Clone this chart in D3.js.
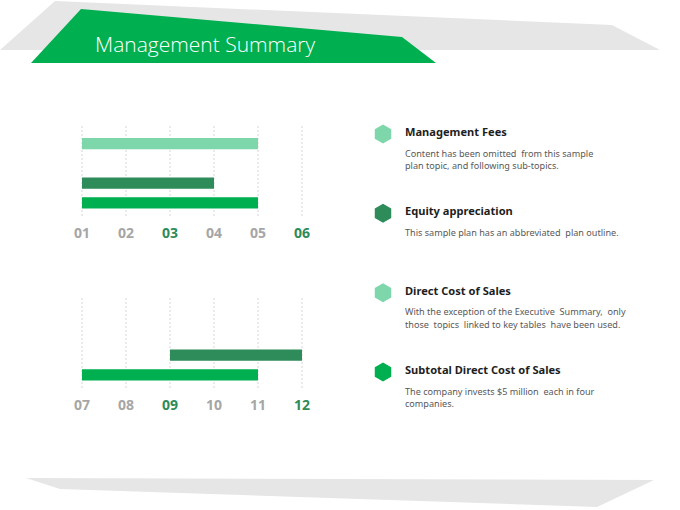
<!DOCTYPE html>
<head>
	<meta charset="utf-8" />
	<style>
		body {
			margin: 0;
			background-color: #fff;
			overflow: hidden;
		}
		svg {
			display: block;
		}
	</style>
</head>

<body>
	<div id="chart-area"></div>

	<script src="https://cdnjs.cloudflare.com/ajax/libs/d3/7.8.5/d3.min.js"></script>

	<script>
		// tick labels of the two small timelines
		const ticksTop = ['01', '02', '03', '04', '05', '06'];
		const ticksBottom = ['07', '08', '09', '10', '11', '12'];
		const strongTicks = ['03', '06', '09', '12'];

		// one entry per row, null = empty row
		const topStart = ['01', null, '01', '01'];
		const topEnd = ['05', null, '04', '05'];
		const bottomStart = [null, null, '09', '07'];
		const bottomEnd = [null, null, '12', '11'];
		const rowTone = ['light', 'light', 'dark', 'main'];

		// right hand list
		const itemTitles = [
			'Management Fees',
			'Equity appreciation',
			'Direct Cost of Sales',
			'Subtotal Direct Cost of Sales',
		];
		const itemLines = [
			['Content has been omitted  from this sample', 'plan topic, and following sub-topics.'],
			['This sample plan has an abbreviated  plan outline.'],
			['With the exception of the Executive  Summary,  only', 'those  topics  linked to key tables  have been used.'],
			['The company invests $5 million  each in four', 'companies.'],
		];
		const itemTone = ['light', 'dark', 'light', 'main'];

		const colors = {
			light: '#7dd7ab',
			dark: '#2e8b5a',
			main: '#00b050',
		};

		const width = 680,
			height = 510;

		const svg = d3
			.select('#chart-area')
			.append('svg')
			.attr('width', width)
			.attr('height', height);

		// header and footer shapes
		svg.append('path')
			.attr('d', 'M55,1 L612,25 L660,50 L0,50 Z')
			.attr('fill', '#e6e6e6');
		svg.append('path')
			.attr('d', 'M81,9 L402,37 L436,63 L31,63 Z')
			.attr('fill', colors.main);
		svg.append('text')
			.attr('x', 95)
			.attr('y', 52)
			.attr('fill', '#fff')
			.style('font', '300 21px "Open Sans", "Noto Sans", sans-serif')
			.text('Management Summary');
		svg.append('path')
			.attr('d', 'M26,478 L654,480 L597,507 L60,489 Z')
			.attr('fill', '#e6e6e6');

		function timeline(ticks, starts, ends, top) {
			const x = d3.scalePoint().domain(ticks).range([82, 302]);
			const y = d3
				.scaleBand()
				.domain(d3.range(starts.length))
				.range([top + 12, top + 82.5])
				.paddingInner(0.43);

			const g = svg.append('g');

			g.selectAll('.grid')
				.data(ticks)
				.join('line')
				.attr('class', 'grid')
				.attr('x1', d => x(d))
				.attr('x2', d => x(d))
				.attr('y1', top)
				.attr('y2', top + 92)
				.attr('stroke', '#d6d6d6')
				.attr('stroke-dasharray', '2,2');

			const rows = starts
				.map((s, i) => ({ row: i, start: s, end: ends[i] }))
				.filter(d => d.start !== null);

			g.selectAll('.bar')
				.data(rows)
				.join('rect')
				.attr('class', 'bar')
				.attr('x', d => x(d.start))
				.attr('y', d => y(d.row))
				.attr('width', d => x(d.end) - x(d.start))
				.attr('height', y.bandwidth())
				.attr('fill', d => colors[rowTone[d.row]]);

			g.selectAll('.tick')
				.data(ticks)
				.join('text')
				.attr('class', 'tick')
				.attr('x', d => x(d))
				.attr('y', top + 112)
				.attr('text-anchor', 'middle')
				.attr('fill', d => (strongTicks.includes(d) ? colors.dark : '#a6a6a6'))
				.style('font', '700 14px "Open Sans", sans-serif')
				.text(d => d);
		}

		timeline(ticksTop, topStart, topEnd, 126);
		timeline(ticksBottom, bottomStart, bottomEnd, 298);

		// list with hexagon markers
		const iy = d3.scaleLinear().domain([0, 3]).range([134, 372]);
		const hex = r =>
			d3.line()(
				d3.range(6).map(k => {
					const a = (Math.PI / 3) * k - Math.PI / 2;
					return [r * Math.cos(a), r * Math.sin(a)];
				})
			) + 'Z';

		const items = svg
			.selectAll('.item')
			.data(itemTitles)
			.join('g')
			.attr('class', 'item')
			.attr('transform', (d, i) => `translate(0,${iy(i)})`);

		items.append('path')
			.attr('d', hex(9.5))
			.attr('transform', 'translate(383,0)')
			.attr('fill', (d, i) => colors[itemTone[i]]);

		items.append('text')
			.attr('x', 405)
			.attr('y', 2)
			.attr('fill', '#1e1e1e')
			.style('font', '700 11.1px "Noto Sans", sans-serif')
			.text(d => d);

		items.each(function (d, i) {
			d3.select(this)
				.selectAll('.line')
				.data(itemLines[i])
				.join('text')
				.attr('class', 'line')
				.attr('x', 405)
				.attr('y', (l, j) => 22.5 + j * 12.5)
				.attr('fill', '#595959')
				.style('font', '9.1px "Noto Sans", sans-serif')
				.style('white-space', 'pre')
				.text(l => l);
		});
	</script>
</body>
